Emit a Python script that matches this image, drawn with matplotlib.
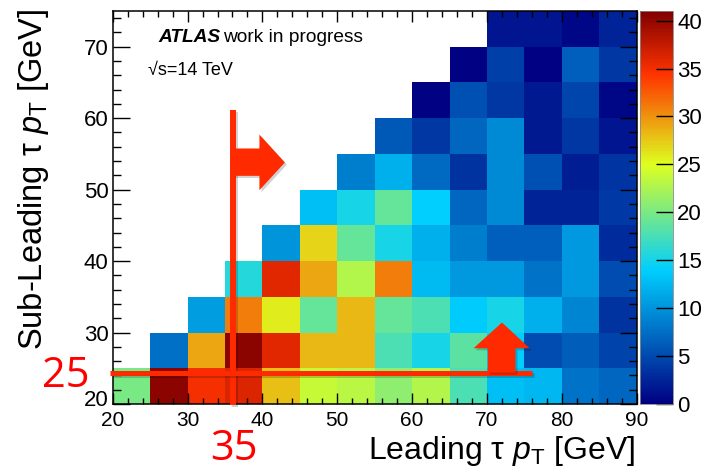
import matplotlib
matplotlib.use("Agg")
import matplotlib.pyplot as plt
import matplotlib.patheffects as pe
import matplotlib.transforms as mtrans
from matplotlib.colors import LinearSegmentedColormap
from matplotlib.patches import Polygon
from matplotlib.ticker import MultipleLocator
import numpy as np

plt.rcParams['font.family'] = ['Liberation Sans', 'DejaVu Sans']
plt.rcParams['mathtext.fontset'] = 'custom'
plt.rcParams['mathtext.rm'] = 'Liberation Sans'
plt.rcParams['mathtext.it'] = 'Liberation Sans:italic'

# bin edges in GeV
lead_edges = np.arange(20, 95, 5)      # leading tau pT
sublead_edges = np.arange(20, 80, 5)   # sub-leading tau pT

nan = np.nan
# one list per sub-leading bin (20-25 up to 70-75), entries along leading pT 20-25 ... 85-90
row_20 = [20.0, 40.5, 34.8, 36.3, 28.0, 23.8, 23.2, 21.0, 22.8, 17.7, 12.9, 12.4, 7.7, 6.9]
row_25 = [nan, 7.6, 29.0, 40.5, 36.0, 28.3, 28.3, 17.7, 15.2, 18.5, 14.0, 5.2, 6.4, 4.6]
row_30 = [nan, nan, 10.7, 31.0, 25.8, 19.0, 28.3, 19.0, 17.7, 13.7, 15.2, 12.0, 9.0, 3.4]
row_35 = [nan, nan, nan, 15.8, 36.0, 29.0, 22.8, 31.0, 12.6, 10.3, 10.3, 7.7, 10.3, 5.2]
row_40 = [nan, nan, nan, nan, 10.0, 27.0, 19.0, 15.2, 12.0, 8.6, 6.5, 6.5, 10.3, 2.9]
row_45 = [nan, nan, nan, nan, nan, 12.9, 15.2, 19.0, 14.0, 6.9, 9.4, 2.5, 2.5, 4.0]
row_50 = [nan, nan, nan, nan, nan, nan, 8.6, 12.0, 7.2, 3.4, 9.4, 5.3, 2.0, 3.6]
row_55 = [nan, nan, nan, nan, nan, nan, nan, 6.0, 3.8, 7.0, 9.3, 1.7, 3.8, 1.5]
row_60 = [nan, nan, nan, nan, nan, nan, nan, nan, 0.3, 5.3, 3.8, 1.7, 4.8, 0.5]
row_65 = [nan, nan, nan, nan, nan, nan, nan, nan, nan, 0.3, 4.3, 0.3, 6.5, 3.8]
row_70 = [nan, nan, nan, nan, nan, nan, nan, nan, nan, nan, 1.6, 1.6, 0.5, 2.5]

counts = np.array([row_20, row_25, row_30, row_35, row_40, row_45,
                   row_50, row_55, row_60, row_65, row_70])

z_max = 41
z_ticks = list(range(0, 45, 5))

# cut lines / labels
lead_cut_line = 36.1
sublead_cut_line = 24.4
lead_cut_label = "35"
sublead_cut_label = "25"

# ROOT style rainbow palette
stops = [0.00, 0.34, 0.61, 0.84, 1.00]
red = [0.00, 0.00, 0.87, 1.00, 0.51]
green = [0.00, 0.81, 1.00, 0.20, 0.00]
blue = [0.51, 1.00, 0.12, 0.00, 0.00]
root_cmap = LinearSegmentedColormap.from_list(
    "root_rainbow", list(zip(stops, zip(red, green, blue))))

W, H = 702, 475
fig = plt.figure(figsize=(W / 100, H / 100), dpi=100)


def fx(px):
    return px / W


def fy(py):
    return 1 - py / H


ax = fig.add_axes([fx(112.7), fy(404), (636.7 - 112.7) / W, (404 - 11) / H])
cax = fig.add_axes([fx(640), fy(404), 33 / W, (404 - 11) / H])

mesh = ax.pcolormesh(lead_edges, sublead_edges, np.ma.masked_invalid(counts),
                     cmap=root_cmap, vmin=0, vmax=z_max)
ax.set_xlim(20, 90)
ax.set_ylim(20, 75)

ax.xaxis.set_major_locator(MultipleLocator(10))
ax.xaxis.set_minor_locator(MultipleLocator(2))
ax.yaxis.set_major_locator(MultipleLocator(10))
ax.yaxis.set_minor_locator(MultipleLocator(2))
ax.tick_params(which='both', direction='in', top=True, right=True, width=1)
ax.tick_params(axis='x', which='major', length=8, pad=5, labelsize=15)
ax.tick_params(axis='x', which='minor', length=4)
ax.tick_params(axis='y', which='major', length=12, pad=3, labelsize=16)
ax.tick_params(axis='y', which='minor', length=6)
for s in ax.spines.values():
    s.set_linewidth(1.1)

cb = fig.colorbar(mesh, cax=cax)
cb.set_ticks(z_ticks)
cb.ax.minorticks_off()
cb.ax.tick_params(direction='in', length=12, labelsize=16, pad=3, width=1)
cb.outline.set_linewidth(0.6)
cb.outline.set_edgecolor('#888888')

# axis titles
fig.text(fx(635), fy(458.5), r'Leading τ $p_{\mathrm{T}}$ [GeV]', ha='right', va='baseline', size=23)
fig.text(fx(16), fy(9), r'Sub-Leading τ $p_{\mathrm{T}}$ [GeV]', rotation=90,
         ha='left', va='top', size=23.5)

# labels
fig.text(fx(158), fy(42), 'ATLAS', weight='bold', style='italic', size=13.8, va='baseline')
fig.text(fx(223), fy(42), 'work in progress', size=13.8, va='baseline')
fig.text(fx(147.7), fy(75), '√s=14 TeV', size=13, va='baseline')

# cut overlays
cut_col = '#ff2a00'
shadow = [pe.SimpleLineShadow(offset=(1.5, -1.5), shadow_color='k', alpha=0.18), pe.Normal()]
ax.plot([lead_cut_line, lead_cut_line], [61.1, 19.9], color=cut_col, lw=4.3,
        solid_capstyle='butt', clip_on=False, path_effects=shadow, zorder=5)
ax.plot([19.7, 76.0], [sublead_cut_line, sublead_cut_line], color=cut_col, lw=3.6,
        solid_capstyle='butt', clip_on=False, path_effects=shadow, zorder=5)

pshadow = [pe.SimplePatchShadow(offset=(1.5, -1.5), shadow_rgbFace='k', alpha=0.18), pe.Normal()]
right_arrow = Polygon([(lead_cut_line, 55.76), (39.6, 55.76), (39.6, 57.7), (43.0, 53.8),
                       (39.6, 49.93), (39.6, 51.93), (lead_cut_line, 51.93)],
                      closed=True, facecolor=cut_col, edgecolor='none', zorder=5,
                      path_effects=pshadow)
ax.add_patch(right_arrow)
up_arrow = Polygon([(70.1, sublead_cut_line), (70.1, 27.8), (68.2, 27.8), (72.0, 31.4),
                    (75.7, 27.8), (73.8, 27.8), (73.8, sublead_cut_line)],
                   closed=True, facecolor=cut_col, edgecolor='none', zorder=5,
                   path_effects=pshadow)
ax.add_patch(up_arrow)

fig.text(fx(234), fy(460), lead_cut_label, color='red', size=30, ha='center', va='baseline',
         family=['Open Sans', 'DejaVu Sans'])
fig.text(fx(66), fy(387), sublead_cut_label, color='red', size=30, ha='center', va='baseline',
         family=['Open Sans', 'DejaVu Sans'])

# ROOT nudges the lowest y label up a bit
fig.canvas.draw()
for tick in ax.yaxis.get_major_ticks():
    if abs(tick.get_loc() - 20) < 1e-6:
        tick.label1.set_transform(tick.label1.get_transform() +
                                  mtrans.ScaledTranslation(0, 4 / 72, fig.dpi_scale_trans))

fig.savefig('out.png', dpi=100)
